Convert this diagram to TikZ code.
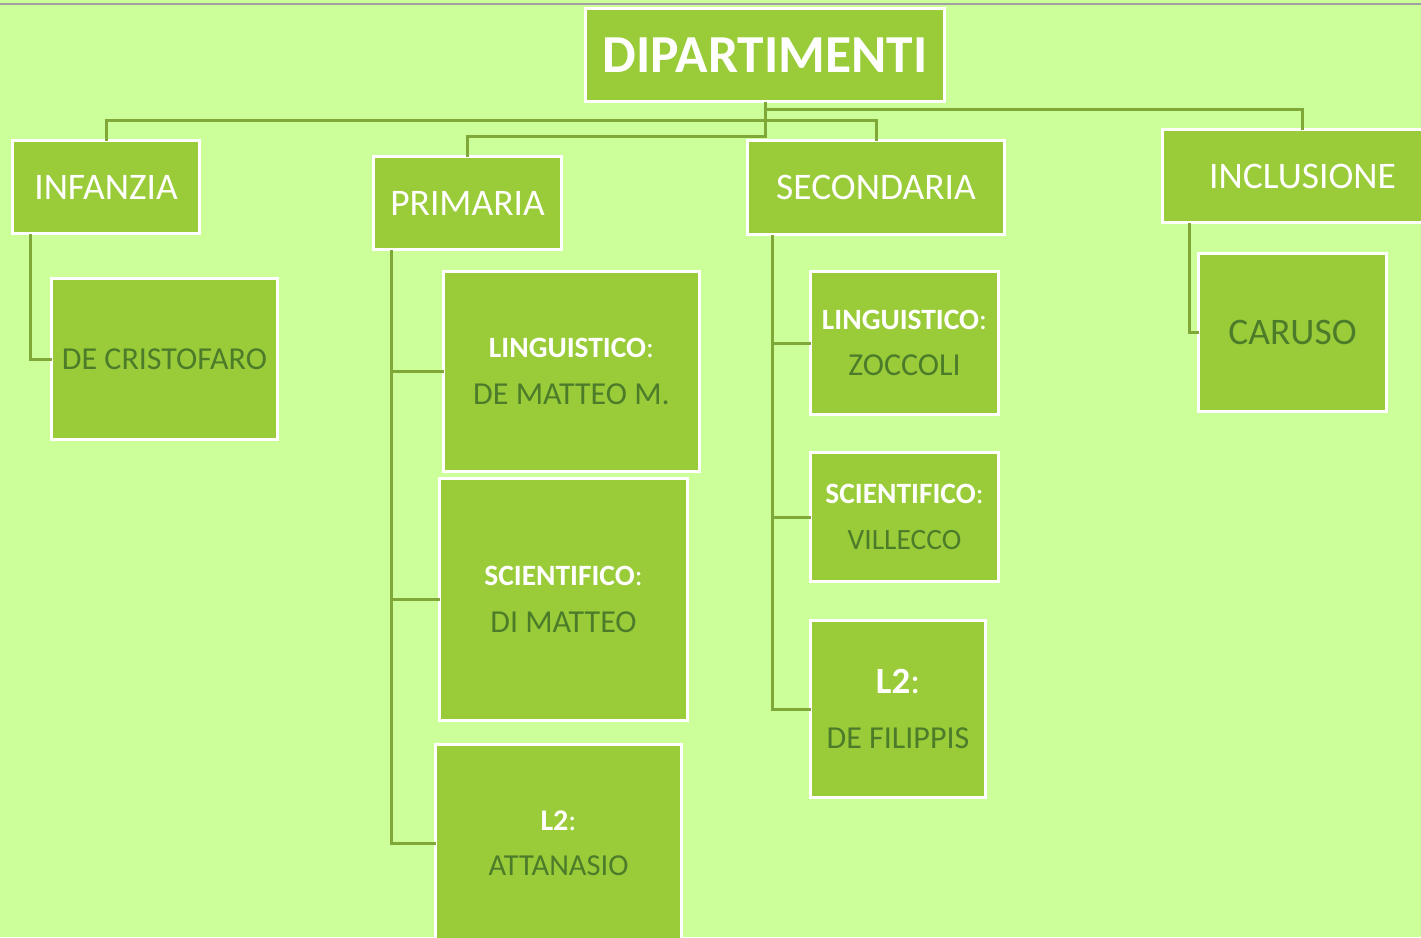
\documentclass[tikz,border=0pt]{standalone}
\usepackage{fontspec}
\usetikzlibrary{calc}
\setmainfont{Carlito}
\definecolor{bgc}{HTML}{CCFF99}
\definecolor{boxc}{HTML}{9ACC3A}
\definecolor{linec}{HTML}{80A838}
\definecolor{dkc}{HTML}{4C7C2A}
\definecolor{topc}{HTML}{A0A0A0}
\newcommand{\lbl}[2]{{\bfseries\color{white}#1}{\color{white}:}\\{\color{dkc}#2}}
\begin{document}
\begin{tikzpicture}[x=1pt,y=-1pt,
  box/.style={draw=white, line width=3pt, fill=boxc, inner sep=0pt, align=center, anchor=north west},
  conn/.style={draw=linec, line width=3pt, line cap=rect}]
\useasboundingbox (0,0) rectangle (1421,937);
\fill[bgc] (0,0) rectangle (1421,937);
\draw[topc, line width=2pt] (0,4) -- (1421,4);
% nodes
\node[box, minimum width=359pt, minimum height=93pt, text=white, font=\fontsize{53.5}{56}\selectfont\bfseries, text depth=0pt] (dip) at (584,7) {DIPARTIMENTI};
\node[box, minimum width=187pt, minimum height=93pt, text=white, font=\fontsize{37.5}{40}\selectfont] (inf) at (11,139) {INFANZIA};
\node[box, minimum width=188pt, minimum height=93pt, text=white, font=\fontsize{37.5}{40}\selectfont] (prim) at (372,155) {PRIMARIA};
\node[box, minimum width=257pt, minimum height=94pt, text=white, font=\fontsize{37.5}{40}\selectfont] (sec) at (746,139) {SECONDARIA};
\node[box, minimum width=280pt, minimum height=93pt, text=white, font=\fontsize{37.5}{40}\selectfont] (incl) at (1161,128) {INCLUSIONE};
\node[box, minimum width=226pt, minimum height=161pt, text=dkc, font=\fontsize{32}{36}\selectfont] (cris) at (50,277) {DE CRISTOFARO};
\node[box, minimum width=188pt, minimum height=158pt, text=dkc, font=\fontsize{37.5}{40}\selectfont] (car) at (1197,252) {CARUSO};
\node[box, minimum width=256pt, minimum height=200pt, font=\fontsize{29.5}{47}\selectfont] (pling) at (442,270) {\lbl{LINGUISTICO}{\fontsize{32}{47}\selectfont DE MATTEO M.}};
\node[box, minimum width=248pt, minimum height=242pt, font=\fontsize{29.5}{47}\selectfont] (psci) at (438,477) {\lbl{SCIENTIFICO}{\fontsize{32}{47}\selectfont DI MATTEO}};
\node[box, minimum width=246pt, minimum height=198pt, font=\fontsize{30}{45}\selectfont] (pl2) at (434,743) {\lbl{L2}{\fontsize{30.5}{45}\selectfont ATTANASIO}};
\node[box, minimum width=188pt, minimum height=143pt, font=\fontsize{29.5}{46}\selectfont] (sling) at (809,270) {\lbl{LINGUISTICO}{\fontsize{32}{46}\selectfont ZOCCOLI}};
\node[box, minimum width=188pt, minimum height=129pt, font=\fontsize{29.5}{46}\selectfont] (ssci) at (809,451) {\lbl{SCIENTIFICO}{\fontsize{29.5}{46}\selectfont VILLECCO}};
\node[box, minimum width=175pt, minimum height=177pt, font=\fontsize{37}{55}\selectfont] (sl2) at (809,619) {\lbl{L2}{\fontsize{32}{55}\selectfont DE FILIPPIS}};
% connectors
\draw[conn] (dip.south) -- (dip.south |- 0,136) -| (prim.north);
\draw[conn] (inf.north) -- (inf.north |- 0,120) -| (sec.north);
\draw[conn] (dip.south) -- (dip.south |- 0,109) -| (incl.north);
\draw[conn] ($(inf.south west)+(19,0)$) |- (cris.west);
\draw[conn] ($(prim.south west)+(19,0)$) |- (pl2.west);
\draw[conn] ($(prim.south west)+(19,0)$) |- (pling.west);
\draw[conn] ($(prim.south west)+(19,0)$) |- (psci.west);
\draw[conn] ($(sec.south west)+(26,0)$) |- (sl2.west);
\draw[conn] ($(sec.south west)+(26,0)$) |- (sling.west);
\draw[conn] ($(sec.south west)+(26,0)$) |- (ssci.west);
\draw[conn] ($(incl.south west)+(28,0)$) |- (car.west);
\end{tikzpicture}
\end{document}
